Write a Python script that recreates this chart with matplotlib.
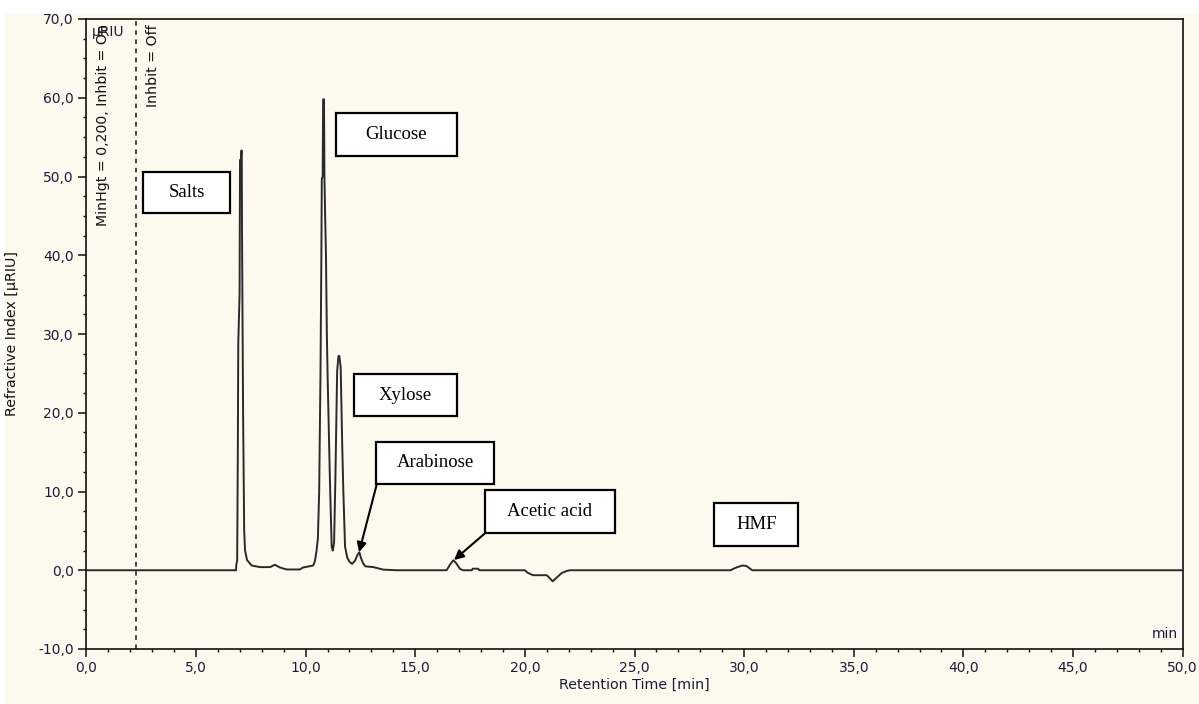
import matplotlib
matplotlib.use("Agg")
import matplotlib.pyplot as plt
from matplotlib.ticker import MultipleLocator, FuncFormatter
from matplotlib.patches import Rectangle

# ---- data ----
time_min = [0.0, 6.83, 6.84, 6.88, 6.91, 6.93, 6.99, 7.01, 7.05, 7.07, 7.09, 7.10,
            7.15, 7.20, 7.24, 7.33, 7.54, 7.92, 8.38, 8.60, 8.83, 9.14, 9.74, 9.88,
            10.35, 10.43, 10.50, 10.56, 10.62, 10.68, 10.72, 10.74, 10.78, 10.80,
            10.84, 10.86, 10.89, 10.93, 10.97, 11.01, 11.11, 11.19, 11.24, 11.30,
            11.36, 11.44, 11.50, 11.54, 11.60, 11.67, 11.72, 11.80, 11.90, 12.00,
            12.12, 12.25, 12.38, 12.45, 12.52, 12.62, 12.72, 13.09, 13.54, 14.15,
            16.43, 16.62, 16.74, 16.86, 17.04, 17.19, 17.58, 17.62, 17.87, 17.92,
            20.00, 20.14, 20.37, 21.00, 21.27, 21.68, 21.90, 22.05,
            29.38, 29.60, 29.91, 30.10, 30.37, 50.0]
signal_uriu = [0.0, 0.0, 0.7, 1.2, 15.0, 28.8, 35.0, 52.1, 52.1, 53.3, 53.3, 43.6,
               20.0, 5.0, 2.5, 1.3, 0.6, 0.4, 0.4, 0.7, 0.35, 0.1, 0.1, 0.35,
               0.6, 1.2, 2.5, 4.0, 10.0, 25.0, 40.0, 49.7, 50.0, 59.8,
               59.8, 50.0, 45.3, 40.0, 30.0, 24.0, 11.4, 3.0, 2.5, 3.5,
               11.8, 25.3, 27.2, 27.2, 25.8, 16.0, 10.2, 3.0, 1.6, 1.1,
               0.8, 1.2, 2.0, 2.3, 1.6, 0.9, 0.5, 0.4, 0.08, 0.0,
               0.0, 0.85, 1.27, 0.93, 0.17, 0.0, 0.0, 0.2, 0.2, 0.0,
               0.0, -0.34, -0.63, -0.63, -1.4, -0.35, -0.1, 0.0,
               0.0, 0.3, 0.6, 0.55, 0.0, 0.0]

peak_labels = ["Salts", "Glucose", "Xylose", "Arabinose", "Acetic acid", "HMF"]
x_ticks = [0, 5, 10, 15, 20, 25, 30, 35, 40, 45, 50]
y_ticks = [-10, 0, 10, 20, 30, 40, 50, 60, 70]

# label boxes: (t_left, t_right, y_bottom, y_top)
boxes = [(2.60, 6.55, 45.33, 50.61),
         (11.39, 16.90, 52.64, 58.10),
         (12.21, 16.89, 19.59, 24.88),
         (13.21, 18.61, 10.95, 16.32),
         (18.18, 24.11, 4.69, 10.19),
         (28.64, 32.47, 3.12, 8.50)]
# arrows: label index -> (start, tip)
arrows = {3: ((13.24, 10.85), (12.44, 2.3)),
          4: ((18.18, 4.69), (16.77, 1.3))}

cream = "#fdf9ee"
tick_col = "#1c1c3a"

fig = plt.figure(figsize=(11.99, 7.04), dpi=100, facecolor="white")
fig.patches.append(Rectangle((5 / 1199, 0), 1 - 5 / 1199, 1 - 14 / 704,
                             transform=fig.transFigure, facecolor=cream,
                             edgecolor="none", zorder=-10))
ax = fig.add_axes([86.3 / 1199, 1 - 649 / 704, (1182.7 - 86.3) / 1199, 630 / 704])
ax.set_facecolor(cream)

ax.plot(time_min, signal_uriu, color="#2a2a2a", lw=1.4, zorder=3)

ax.set_xlim(0, 50)
ax.set_ylim(-10, 70)
ax.set_xticks(x_ticks)
ax.set_yticks(y_ticks)
ax.xaxis.set_minor_locator(MultipleLocator(1))
ax.yaxis.set_minor_locator(MultipleLocator(2.5))
fmt = FuncFormatter(lambda v, p: f"{v:.1f}".replace(".", ","))
ax.xaxis.set_major_formatter(fmt)
ax.yaxis.set_major_formatter(fmt)
ax.tick_params(which="major", direction="out", length=6, width=1.1,
               labelsize=10, labelcolor=tick_col, color="#111111", pad=3)
ax.tick_params(which="minor", direction="out", length=2.5, width=1.0, color="#111111")
for s in ax.spines.values():
    s.set_linewidth(1.2)
    s.set_color("#111111")

ax.set_xlabel("Retention Time [min]", fontsize=10.3, color=tick_col, labelpad=2)
ax.set_ylabel("Refractive Index [µRIU]", fontsize=10.3, color="#111111", labelpad=14)

# dashed event line and event texts
ax.axvline(2.27, color="#111111", lw=1.1, ls=(0, (3, 3)), zorder=2)
ax.text(0.005, 0.991, "µRIU", transform=ax.transAxes, ha="left", va="top",
        fontsize=10, color=tick_col)
ax.text(0.74, 69.3, "MinHgt = 0,200, Inhbit = On", rotation=90, ha="center",
        va="top", fontsize=10.2, color="#111111")
ax.text(3.02, 69.3, "Inhbit = Off", rotation=90, ha="center", va="top",
        fontsize=10.2, color="#111111")
ax.text(0.996, 0.013, "min", transform=ax.transAxes, ha="right", va="bottom",
        fontsize=10, color=tick_col)

# peak label boxes
for label, (x0, x1, y0, y1) in zip(peak_labels, boxes):
    ax.add_patch(Rectangle((x0, y0), x1 - x0, y1 - y0, facecolor="white",
                           edgecolor="black", lw=1.6, zorder=5))
    ax.text((x0 + x1) / 2, (y0 + y1) / 2, label, ha="center", va="center",
            fontsize=13.5, family="Liberation Serif", color="black", zorder=6)

for idx, (start, tip) in arrows.items():
    ax.annotate("", xy=tip, xytext=start,
                arrowprops=dict(arrowstyle="-|>", color="black", lw=1.5,
                                mutation_scale=14, shrinkA=0, shrinkB=0),
                zorder=6)

fig.savefig("out.png", dpi=100, facecolor=fig.get_facecolor())
